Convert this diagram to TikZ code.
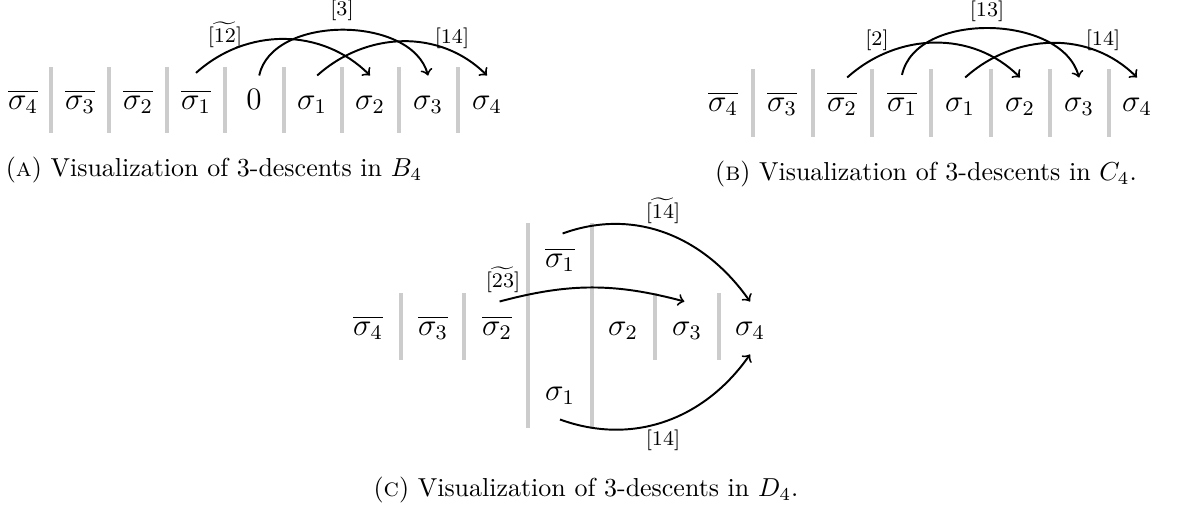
\documentclass[tikz,border=0pt]{standalone}
\usepackage{amsmath}
\begin{document}
\begin{tikzpicture}[x=0.385pt,y=-0.385pt,
  elem/.style={font=\large, inner sep=0pt, minimum height=20pt, text height=8pt, text depth=2.5pt, anchor=center},
  sepbar/.style={draw=black!20, line width=1.5pt},
  arr/.style={->, line width=0.75pt},
  lbl/.style={font=\footnotesize, inner sep=0pt},
  captext/.style={inner sep=0pt}]
\useasboundingbox (0,0) rectangle (1179,512);

% ---------- (A) B_4 ----------
\node[elem] (a4b) at (23,102) {$\overline{\sigma_4}$};
\node[elem] (a3b) at (80,102) {$\overline{\sigma_3}$};
\node[elem] (a2b) at (138,102) {$\overline{\sigma_2}$};
\node[elem] (a1b) at (196,102) {$\overline{\sigma_1}$};
\node[elem] (a0)  at (254,102) {$0$};
\node[elem] (a1)  at (312,102) {$\sigma_1$};
\node[elem] (a2)  at (370,102) {$\sigma_2$};
\node[elem] (a3)  at (428,102) {$\sigma_3$};
\node[elem] (a4)  at (487,102) {$\sigma_4$};
\foreach \x in {51,109,167,225,284,342,399,458}
  \draw[sepbar] (\x,67) -- (\x,133);
\draw[arr] ([yshift=1pt]a1b.north) to[out=42,in=135] (a2.north);
\draw[arr] ([xshift=2pt]a0.north) to[out=78,in=105,looseness=0.95] (a3.north);
\draw[arr] ([xshift=2pt]a1.north) to[out=42,in=135] (a4.north);
\node[lbl] (la1) at (225,35) {$[\widetilde{12}]$};
\node[lbl] (la2) at (342,10) {$[3]$};
\node[lbl] (la3) at (452,38) {$[14]$};
\node[captext] (capa) at (214,170) {(\textsc{a}) Visualization of 3-descents in $B_4$};

% ---------- (B) C_4 ----------
\node[elem] (b4b) at (723,104) {$\overline{\sigma_4}$};
\node[elem] (b3b) at (782,104) {$\overline{\sigma_3}$};
\node[elem] (b2b) at (842,104) {$\overline{\sigma_2}$};
\node[elem] (b1b) at (902,104) {$\overline{\sigma_1}$};
\node[elem] (b1)  at (960,104) {$\sigma_1$};
\node[elem] (b2)  at (1020,104) {$\sigma_2$};
\node[elem] (b3)  at (1079,104) {$\sigma_3$};
\node[elem] (b4)  at (1137,104) {$\sigma_4$};
\foreach \x in {753,813,872,931,991,1050,1109}
  \draw[sepbar] (\x,69) -- (\x,137);
\draw[arr] ([xshift=2pt]b2b.north) to[out=42,in=135] (b2.north);
\draw[arr] ([yshift=1pt]b1b.north) to[out=78,in=105,looseness=0.95] (b3.north);
\draw[arr] ([xshift=2pt]b1.north) to[out=42,in=135] (b4.north);
\node[lbl] (lb1) at (877,40) {$[2]$};
\node[lbl] (lb2) at (987,9) {$[\widetilde{13}]$};
\node[lbl] (lb3) at (1103,40) {$[14]$};
\node[captext] (capb) at (926,174) {(\textsc{b}) Visualization of 3-descents in $C_4$.};

% ---------- (C) D_4 ----------
\node[elem] (c4b) at (368,328) {$\overline{\sigma_4}$};
\node[elem] (c3b) at (433,328) {$\overline{\sigma_3}$};
\node[elem] (c2b) at (497,328) {$\overline{\sigma_2}$};
\node[elem] (c1b) at (560,260) {$\overline{\sigma_1}$};
\node[elem] (c1)  at (560,393) {$\sigma_1$};
\node[elem] (c2)  at (623,328) {$\sigma_2$};
\node[elem] (c3)  at (687,328) {$\sigma_3$};
\node[elem] (c4)  at (750,328) {$\sigma_4$};
\foreach \x in {401,464,655,719}
  \draw[sepbar] (\x,293) -- (\x,360);
\foreach \x in {528,592}
  \draw[sepbar] (\x,223) -- (\x,428);
\draw[arr] ([xshift=1pt]c1b.north) to[out=20,in=125] (c4.north);
\draw[arr] ([xshift=1pt]c2b.north) to[out=15,in=165] ([xshift=-1pt]c3.north);
\draw[arr] (c1.south) to[out=-20,in=-125] (c4.south);
\node[lbl] (lc1) at (663,211) {$[\widetilde{14}]$};
\node[lbl] (lc2) at (503,280) {$[\widetilde{23}]$};
\node[lbl] (lc3) at (663,440) {$[14]$};
\node[captext] (capc) at (586,490) {(\textsc{c}) Visualization of 3-descents in $D_4$.};
\end{tikzpicture}
\end{document}
